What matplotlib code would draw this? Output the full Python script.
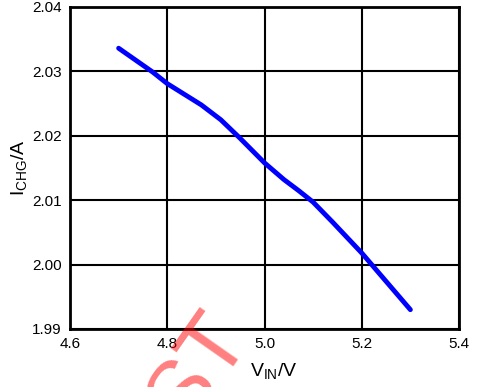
import matplotlib
matplotlib.use('Agg')
import matplotlib.pyplot as plt

# charge current vs input voltage
vin = [4.70, 4.77, 4.80, 4.87, 4.91, 4.95, 5.00, 5.04, 5.07, 5.10, 5.14, 5.20,
       5.25, 5.30]
ichg = [2.0336, 2.0299, 2.0281, 2.0248, 2.0225, 2.0196, 2.0158, 2.0132, 2.0115,
        2.0097, 2.0066, 2.0018, 1.9974, 1.9930]

xticks = [4.6, 4.8, 5.0, 5.2, 5.4]
yticks = [1.99, 2.00, 2.01, 2.02, 2.03, 2.04]

plt.rcParams['font.family'] = ['Liberation Sans', 'DejaVu Sans']

fig = plt.figure(figsize=(4.78, 3.87), dpi=100)
ax = fig.add_axes([70 / 478, 1 - 329 / 387, (459 - 70) / 478, (329 - 7) / 387])

ax.plot(vin, ichg, color='#0000ff', linewidth=3.5, solid_capstyle='round',
        solid_joinstyle='round')

ax.set_xlim(4.6, 5.4)
ax.set_ylim(1.99, 2.04)
ax.set_xticks(xticks)
ax.set_xticklabels(['%.1f' % t for t in xticks])
ax.set_yticks(yticks)
ax.set_yticklabels(['%.2f' % t for t in yticks])
ax.tick_params(length=0, labelsize=11, pad=6)
ax.grid(True, color='black', linewidth=1.5)
for sp in ax.spines.values():
    sp.set_linewidth(2)

fig.text(274 / 478, 1 - 372 / 387, r'V$_{\mathregular{IN}}$/V', fontsize=14,
         ha='center', va='center')
fig.text(20 / 478, 1 - 168 / 387, r'I$_{\mathregular{CHG}}$/A', fontsize=14,
         ha='center', va='center', rotation=90)

# watermark, cut by the bottom edge like in the original
fig.text(200 / 478, 1 - 370 / 387, 'ST', fontsize=64, color='#ff0000', alpha=0.5,
         rotation=55, ha='center', va='center')

fig.savefig('out.png', dpi=100)
